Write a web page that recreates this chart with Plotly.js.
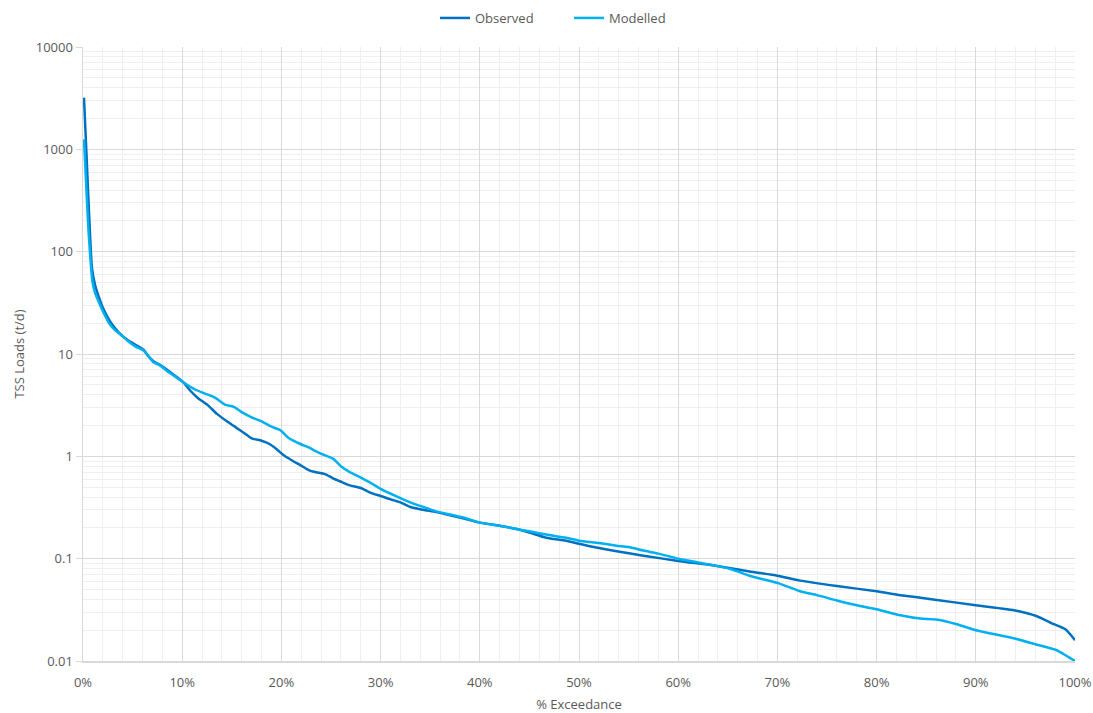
<!DOCTYPE html>
<html>
<head>
<meta charset="utf-8">
<script src="https://cdn.plot.ly/plotly-3.0.1.min.js"></script>
<style>html,body{margin:0;padding:0;background:#fff;}#chart{width:1093px;height:713px;}</style>
</head>
<body>
<div id="chart"></div>
<script>
// % exceedance and TSS loads (t/d)
const obsX = [0.1,0.35,0.6,0.9,1.2,1.6,2.1,2.7,3.2,3.8,4.5,5.3,6.1,6.6,7.1,7.8,8.4,9.2,10.1,10.8,11.6,12.6,13.5,14.5,15.3,16.2,17.0,18.0,18.8,19.5,20.2,21.0,21.9,22.8,23.5,24.4,25.2,26.1,26.9,28.0,29.0,30.0,31.0,32.0,33.0,34.3,35.6,37.0,38.5,40.0,42.0,43.7,45.0,46.7,48.7,50.0,51.5,53.8,56.5,60,63.9,67.2,70,72.3,76,80,82.4,85.7,90,94.1,96.1,97.8,99,100];
const obsY = [3200,900,250,70,48,36,27,21,18,15.5,13.7,12.3,11,9.5,8.5,7.8,7.1,6.2,5.3,4.4,3.7,3.15,2.6,2.2,1.95,1.7,1.5,1.42,1.32,1.18,1.03,0.92,0.82,0.73,0.7,0.67,0.61,0.56,0.52,0.49,0.44,0.41,0.38,0.355,0.32,0.3,0.285,0.265,0.245,0.225,0.21,0.195,0.18,0.16,0.15,0.14,0.13,0.118,0.107,0.095,0.085,0.075,0.068,0.061,0.054,0.048,0.044,0.040,0.035,0.031,0.0275,0.023,0.0205,0.016];

const modX = [0.1,0.3,0.53,0.75,0.94,1.2,1.6,2.1,2.7,3.3,3.8,4.5,5.3,6.1,6.7,7.1,7.8,8.4,9.2,10.1,11.3,12.3,13.3,14.3,15.2,16.0,17.0,18.0,19.0,19.9,20.7,21.9,22.7,23.5,24.4,25.2,26.0,26.9,28.0,29.0,30.0,31.5,33.0,34.3,35.6,37.0,38.5,40.0,42.0,43.7,45.0,46.7,48.7,50,52,53.8,55,56.5,58,60,62,63.9,65.5,67.2,70,72.3,74,76,78,80,82.4,84.4,86,88,90,93.7,96.1,98.1,99.1,100];
const modY = [1250,500,175,85,52,40,32,25,19.5,16.8,15.5,13.5,11.8,10.8,9.2,8.3,7.7,6.9,6.1,5.3,4.5,4.1,3.75,3.2,3.05,2.7,2.4,2.2,1.95,1.8,1.52,1.32,1.23,1.12,1.02,0.95,0.8,0.7,0.62,0.55,0.48,0.41,0.355,0.32,0.29,0.27,0.25,0.225,0.21,0.195,0.185,0.172,0.16,0.15,0.142,0.134,0.13,0.12,0.112,0.1,0.092,0.085,0.078,0.068,0.058,0.048,0.044,0.039,0.035,0.032,0.028,0.026,0.0255,0.023,0.020,0.0168,0.0145,0.0128,0.0113,0.010];

const seriesNames = ['Observed','Modelled'];
const seriesColors = ['#0070C0','#00B0F0'];

const yTickVals = [0.01, 0.1, 1, 10, 100, 1000, 10000];
const yTickText = ['0.01', '0.1', '1', '10', '100', '1000', '10000'];

const txt = '#595959';
const traces = [
  {x: obsX, y: obsY, name: seriesNames[0], type: 'scatter', mode: 'lines', legend: 'legend',
   line: {color: seriesColors[0], width: 2.5, shape: 'spline', smoothing: 0.6}},
  {x: modX, y: modY, name: seriesNames[1], type: 'scatter', mode: 'lines', legend: 'legend2',
   line: {color: seriesColors[1], width: 2.5, shape: 'spline', smoothing: 0.6}}
];

const legendBase = {orientation: 'h', xanchor: 'left', xref: 'container',
  y: 1 - 18/713, yanchor: 'middle', yref: 'container',
  font: {size: 13, color: txt}, itemwidth: 30, bgcolor: 'rgba(0,0,0,0)'};

const layout = {
  width: 1093, height: 713,
  margin: {l: 83, r: 18, t: 47, b: 52},
  paper_bgcolor: '#ffffff', plot_bgcolor: '#ffffff',
  font: {family: '"Open Sans", "Liberation Sans", sans-serif', size: 13, color: txt},
  showlegend: true,
  legend: Object.assign({}, legendBase, {x: 435/1093}),
  legend2: Object.assign({}, legendBase, {x: 569/1093}),
  xaxis: {
    range: [0, 100], dtick: 10, tick0: 0, ticksuffix: '%',
    showgrid: true, gridcolor: '#d9d9d9', gridwidth: 1,
    minor: {dtick: 2, showgrid: true, gridcolor: '#efefef', gridwidth: 1},
    showline: true, linecolor: '#d9d9d9', linewidth: 1.5,
    ticks: 'outside', ticklen: 9, tickcolor: 'rgba(0,0,0,0)', zeroline: false,
    tickfont: {size: 13, color: txt},
    title: {text: '% Exceedance', font: {size: 13, color: txt}, standoff: 12}
  },
  yaxis: {
    type: 'log', range: [-2, 4], tickmode: 'array', tickvals: yTickVals, ticktext: yTickText,
    showgrid: true, gridcolor: '#d9d9d9', gridwidth: 1,
    minor: {dtick: 'D1', showgrid: true, gridcolor: '#efefef', gridwidth: 1},
    showline: true, linecolor: '#d9d9d9', linewidth: 1.5,
    ticks: 'outside', ticklen: 6, tickcolor: '#d9d9d9',
    zeroline: false,
    tickfont: {size: 13, color: txt},
    title: {text: 'TSS Loads (t/d)', font: {size: 13, color: txt}, standoff: 8}
  }
};

Plotly.newPlot('chart', traces, layout, {displayModeBar: false, staticPlot: true});
</script>
</body>
</html>
